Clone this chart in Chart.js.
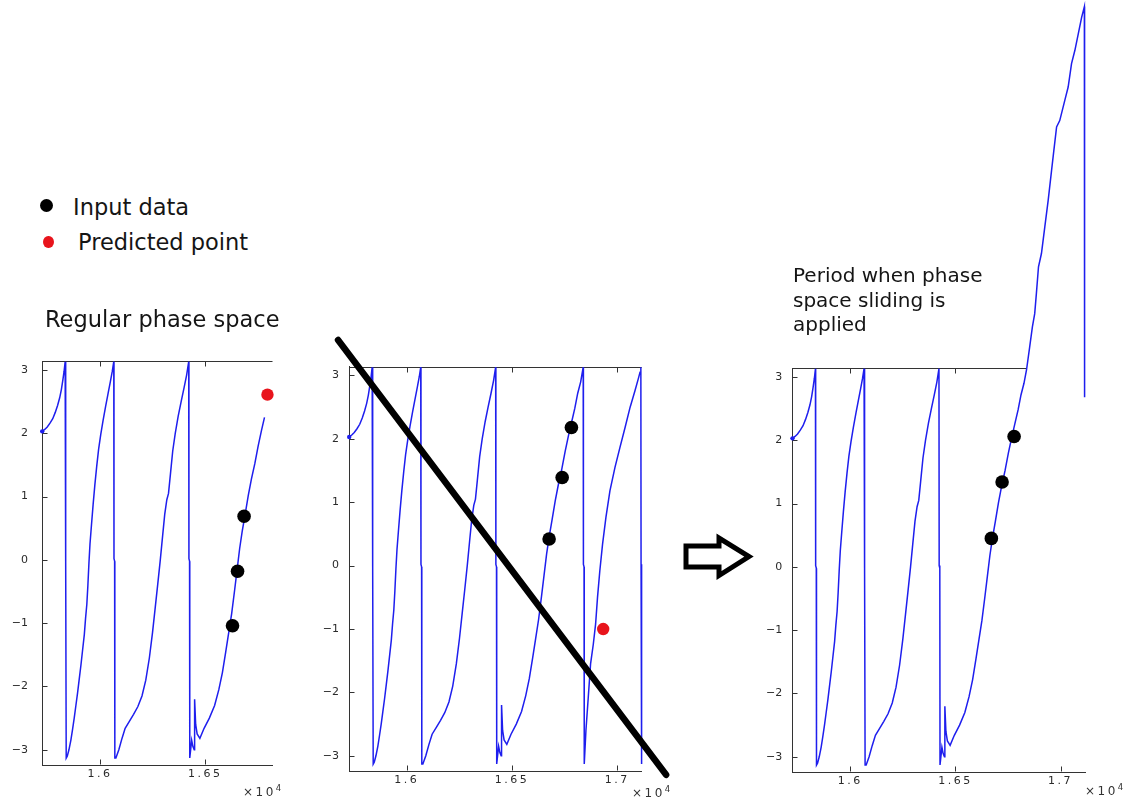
<!DOCTYPE html>
<html><head><meta charset="utf-8">
<script src="https://cdn.jsdelivr.net/npm/chart.js@4.4.1/dist/chart.umd.min.js"></script>
<style>
html,body{margin:0;padding:0;background:#fff;}
#wrap{position:relative;width:1139px;height:801px;overflow:hidden;background:#fff;}
canvas{position:absolute;}
.t{position:absolute;font-family:"DejaVu Sans",Verdana,sans-serif;color:#151515;white-space:nowrap;}
.big{font-size:22.5px;line-height:22px;}
.mid{font-size:20px;line-height:24.5px;}
.dot{position:absolute;border-radius:50%;}
.exp{position:absolute;font-family:"DejaVu Sans",sans-serif;font-size:12px;line-height:12px;letter-spacing:2.5px;color:#333;white-space:nowrap;}
.exp sup{font-size:8.5px;letter-spacing:0;vertical-align:5px;line-height:0;}
svg{position:absolute;left:0;top:0;pointer-events:none;}
</style></head>
<body><div id="wrap">
<canvas id="c1" width="300" height="501" style="left:0;top:300px"></canvas>
<canvas id="c2" width="400" height="481" style="left:300px;top:320px"></canvas>
<canvas id="c3" width="399" height="801" style="left:740px;top:0"></canvas>
<div class="dot" style="left:40px;top:198.5px;width:13px;height:13px;background:#000"></div>
<div class="dot" style="left:43px;top:235.5px;width:11px;height:12.5px;background:#e8141c"></div>
<div class="t big" style="left:73px;top:195.5px">Input data</div>
<div class="t big" style="left:78px;top:231.2px">Predicted point</div>
<div class="t big" style="left:45px;top:307.8px">Regular phase space</div>
<div class="t mid" style="left:793px;top:263.3px">Period when phase<br>space sliding is<br>applied</div>
<div class="exp" style="left:243px;top:786px">×10<sup>4</sup></div>
<div class="exp" style="left:632px;top:787px">×10<sup>4</sup></div>
<div class="exp" style="left:1085px;top:785px">×10<sup>4</sup></div>
<svg width="1139" height="801"><polygon points="686,546 719,546 719,538 749,556.5 719,575.5 719,567 686,567" fill="none" stroke="#000" stroke-width="5" stroke-linejoin="miter"/></svg>
</div>
<script>
// ---- tick definitions ----
const xTicks = [16000, 16500, 17000];
const xTickLabels = ['1.6', '1.65', '1.7'];
const yTicks = [-3, -2, -1, 0, 1, 2, 3];
const yTickLabels = ['\u22123', '\u22122', '\u22121', '0', '1', '2', '3'];
const xMin = 15725, xMaxFull = 17116, xMaxCrop = 16820;
const yMin = -3.24, yMax = Math.PI;

// ---- regular (wrapped) phase signal ----
const waveX = [15726,15738,15750,15763,15776,15788,15799,15809,15817,15824,15830,15835,15836,15839,15840,
  15845,15853,15862,15870,15878,15886,15894,15902,15910,15918,15926,15932,15938,15943,15948,15953,15960,15968,15976,15985,15994,16004,16015,16027,16039,16050,16059,16066,16067,16070,16071,
  16076,16090,16105,16120,16140,16160,16180,16200,16218,16235,16250,16263,16275,16287,16298,16308,16318,16326,16335,16346,16358,16372,16386,16400,16412,16422,16423,16426,16427,
  16436,16442,16448,16450,16455,16462,16475,16495,16520,16545,16565,16582,16598,16612,16626,16640,16652,16664,16676,16690,16705,16720,16736,16752,16768,16782,16798,16812,16826,16838,16839,16842,16843,
  16851,16862,16873,16886,16897,16906,16917,16930,16946,16965,16989,17013,17037,17061,17084,17100,17108,17112,17113,17115,17116];
const waveY = [2.03,2.06,2.10,2.16,2.23,2.33,2.44,2.56,2.69,2.84,2.98,3.13,0.02,-0.02,-3.13,
  -3.10,-3.0,-2.85,-2.68,-2.50,-2.30,-2.10,-1.88,-1.66,-1.42,-1.18,-0.92,-0.70,-0.40,-0.05,0.25,0.55,0.88,1.18,1.48,1.75,1.98,2.20,2.42,2.63,2.82,2.98,3.13,0.02,-0.02,-3.13,
  -3.13,-3.0,-2.82,-2.66,-2.55,-2.44,-2.32,-2.15,-1.90,-1.55,-1.15,-0.75,-0.38,0.0,0.38,0.72,0.95,1.05,1.35,1.72,2.0,2.27,2.5,2.72,2.92,3.13,0.02,-0.02,-3.13,
  -2.85,-2.95,-3.0,-2.2,-2.6,-2.75,-2.82,-2.66,-2.50,-2.30,-2.05,-1.78,-1.45,-1.15,-0.85,-0.48,-0.15,0.18,0.45,0.72,1.02,1.28,1.52,1.80,2.05,2.25,2.48,2.72,2.90,3.13,0.02,-0.02,-3.13,
  -2.6,-2.08,-1.55,-1.24,-0.92,-0.5,-0.08,0.34,0.76,1.18,1.55,1.87,2.18,2.5,2.76,2.95,3.05,3.13,0.02,-0.02,-3.13];

// ---- phase-space-sliding continuation (third panel) ----
const slideX = [16838,16853,16866,16877,16885,16895,16909,16925,16941,16957,16968,16981,16996,17020,17036,17052,17068,17084,17100,17113,17114];
const slideY = [3.11,3.47,3.79,4.0,4.32,4.74,4.95,5.37,5.79,6.26,6.58,6.95,7.05,7.37,7.58,7.95,8.16,8.42,8.68,8.85,2.68];

// ---- points ----
const input1X = [16630, 16654, 16685], input1Y = [-1.04, -0.18, 0.69];
const pred1X = [16796], pred1Y = [2.61];
const input2X = [16676, 16738, 16782], input2Y = [0.42, 1.39, 2.18];
const pred2X = [16933], pred2Y = [-1.0];
const input3X = [16671, 16722, 16779], input3Y = [0.45, 1.34, 2.06];
const pred3X = [16898], pred3Y = [3.96];
const diagX = [15673, 17232], diagY = [3.56, -3.30];

const BLUE = 'rgb(30,30,238)';
const AXIS = '#333';
const TL = 5;
const zip = (xs, ys) => xs.map((x, i) => ({x: x, y: ys[i]}));

const framePlugin = {
  id: 'frame',
  beforeDraw(chart) {
    const s = chart.scales.x;
    if (s && !s.__ls) {
      const orig = s.drawLabels;
      s.drawLabels = function (area) {
        const c = this.ctx; c.save(); c.letterSpacing = '2.5px'; orig.call(this, area); c.restore();
      };
      s.__ls = true;
    }
  },
  beforeDatasetsDraw(chart, args, opts) {
    const {ctx, chartArea: a, scales: {x, y}} = chart;
    ctx.save();
    ctx.strokeStyle = AXIS; ctx.lineWidth = 1;
    ctx.beginPath();
    const top = Math.round(a.top) + 0.5;
    ctx.moveTo(a.left, top); ctx.lineTo(x.getPixelForValue(opts.topEnd), top);
    const bot = Math.round(a.bottom) - 0.5;
    xTicks.forEach(v => {
      if (v < x.min || v > x.max) return;
      const px = Math.round(x.getPixelForValue(v)) + 0.5;
      ctx.moveTo(px, bot); ctx.lineTo(px, bot - TL);
      if (v <= opts.topEnd) { ctx.moveTo(px, top); ctx.lineTo(px, top + TL); }
    });
    const lft = Math.round(a.left) + 0.5;
    yTicks.forEach(v => {
      const py = Math.round(y.getPixelForValue(v)) + 0.5;
      ctx.moveTo(lft, py); ctx.lineTo(lft + TL, py);
    });
    ctx.stroke();
    ctx.restore();
  }
};

function makePanel(id, p) {
  const datasets = [
    {data: p.line, borderColor: BLUE, backgroundColor: BLUE, borderWidth: 1.5, tension: 0,
     pointRadius: c => c.dataIndex === 0 ? 2.2 : 0, pointBorderWidth: 0, clip: false, order: 5},
    {data: p.input, showLine: false, pointRadius: 6.8, pointBackgroundColor: '#000', pointBorderWidth: 0, borderColor: '#000', clip: false, order: 2},
    {data: p.pred, showLine: false, pointRadius: 6.2, pointBackgroundColor: '#e8141c', pointBorderWidth: 0, borderColor: '#e8141c', clip: false, order: 2}
  ];
  if (p.diag) datasets.push({data: p.diag, borderColor: '#000', borderWidth: 6.5, borderCapStyle: 'round',
    pointRadius: 0, clip: false, order: 0});
  new Chart(document.getElementById(id), {
    type: 'line',
    data: {datasets: datasets},
    options: {
      responsive: false, animation: false, devicePixelRatio: 1, events: [],
      layout: {padding: p.pad},
      plugins: {legend: {display: false}, tooltip: {enabled: false}, frame: {topEnd: p.topEnd}},
      scales: {
        x: {type: 'linear', position: 'bottom', min: xMin, max: p.xMax,
          grid: {display: false, drawTicks: false}, border: {display: true, color: AXIS, width: 1},
          afterBuildTicks: s => { s.ticks = xTicks.filter(v => v >= s.min && v <= s.max).map(v => ({value: v})); },
          afterFit: s => { s.height = 24; },
          ticks: {padding: 3, color: '#2a2a2a', font: {family: 'DejaVu Sans', size: 11}, maxRotation: 0, autoSkip: false,
            callback: v => xTickLabels[xTicks.indexOf(v)]}},
        y: {type: 'linear', min: yMin, max: yMax,
          grid: {display: false, drawTicks: false}, border: {display: true, color: AXIS, width: 1},
          afterBuildTicks: s => { s.ticks = yTicks.map(v => ({value: v})); },
          afterFit: s => { s.width = 42; },
          ticks: {padding: p.yPad, color: '#2a2a2a', font: {family: 'DejaVu Sans', size: 11}, autoSkip: false,
            callback: v => yTickLabels[yTicks.indexOf(v)]}}
      }
    },
    plugins: [framePlugin]
  });
}

const wave = zip(waveX, waveY);
makePanel('c1', {
  line: wave.filter(d => d.x <= 16785),
  input: zip(input1X, input1Y), pred: zip(pred1X, pred1Y),
  xMax: xMaxCrop, topEnd: xMaxCrop, yPad: 14,
  pad: {left: 0, top: 61, right: 27.5, bottom: 12}
});
makePanel('c2', {
  line: wave,
  input: zip(input2X, input2Y), pred: zip(pred2X, pred2Y), diag: zip(diagX, diagY),
  xMax: xMaxFull, topEnd: xMaxFull, yPad: 10,
  pad: {left: 7, top: 46.5, right: 58.3, bottom: 6}
});
makePanel('c3', {
  line: wave.filter(d => d.x < slideX[0]).concat(zip(slideX, slideY)),
  input: zip(input3X, input3Y), pred: zip(pred3X, pred3Y),
  xMax: xMaxFull, topEnd: slideX[0], yPad: 10,
  pad: {left: 10.3, top: 368, right: 54, bottom: 5}
});
</script>
</body></html>
